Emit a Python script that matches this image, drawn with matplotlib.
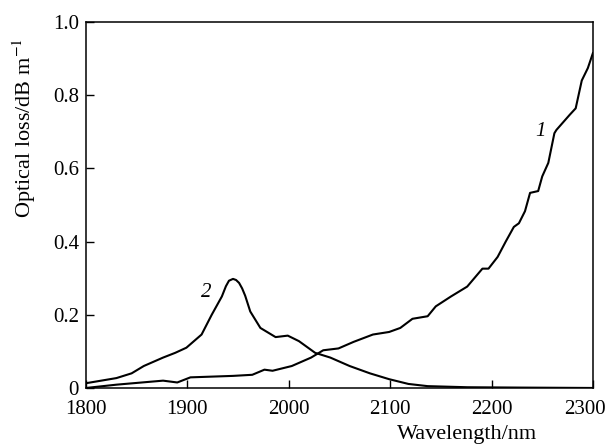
# Optical loss spectra of two fibre samples (curves 1 and 2)

import matplotlib
matplotlib.use('Agg')
import matplotlib.pyplot as plt
import matplotlib.transforms as mtransforms

# Curve 1: loss rising toward long wavelengths
wl1 = [1800, 1830, 1876, 1890, 1903, 1945, 1964, 1976, 1984, 2003, 2022, 2034,
       2049, 2064, 2083, 2099, 2110, 2122, 2137, 2145, 2160, 2176, 2191, 2197,
       2206, 2214, 2222, 2227, 2233, 2238, 2246, 2250, 2256, 2262, 2264, 2277,
       2283, 2289, 2295, 2300]
loss1 = [0.0, 0.009, 0.02, 0.015, 0.029, 0.033, 0.036, 0.05, 0.047, 0.06, 0.083, 0.103,
         0.108, 0.126, 0.146, 0.153, 0.164, 0.189, 0.196, 0.223, 0.25, 0.277, 0.326, 0.326,
         0.358, 0.40, 0.44, 0.45, 0.483, 0.533, 0.538, 0.578, 0.615, 0.696, 0.705, 0.746,
         0.764, 0.84, 0.874, 0.915]

# Curve 2: absorption band near 1945 nm
wl2 = [1800, 1830, 1845, 1857, 1876, 1888, 1899, 1914, 1924, 1934, 1938, 1941, 1945,
       1948, 1951, 1954, 1957, 1962, 1972, 1987, 1999, 2010, 2026, 2041, 2060, 2080,
       2099, 2118, 2137, 2176, 2230, 2300]
loss2 = [0.013, 0.027, 0.04, 0.06, 0.083, 0.096, 0.11, 0.146, 0.2, 0.25, 0.278, 0.293, 0.298,
         0.295, 0.287, 0.272, 0.252, 0.209, 0.164, 0.139, 0.143, 0.128, 0.096, 0.083, 0.06, 0.04,
         0.024, 0.011, 0.005, 0.002, 0.001, 0.0]

x_ticks = [1800, 1900, 2000, 2100, 2200, 2300]
y_ticks = [0, 0.2, 0.4, 0.6, 0.8, 1.0]
y_ticklabels = ['0', '0.2', '0.4', '0.6', '0.8', '1.0']

plt.rcParams['font.family'] = ['Liberation Serif', 'DejaVu Serif']
plt.rcParams['mathtext.fontset'] = 'stix'

fig = plt.figure(figsize=(6.1, 4.48), dpi=100)
ax = fig.add_axes([0.141, 0.134, 0.831, 0.817])

ax.plot(wl1, loss1, color='black', linewidth=1.5)
ax.plot(wl2, loss2, color='black', linewidth=1.5)

ax.text(2248, 0.70, '1', fontsize=15, style='italic', ha='center', va='center')
ax.text(1919, 0.262, '2', fontsize=15, style='italic', ha='center', va='center')

ax.set_xlim(1800, 2300)
ax.set_ylim(0, 1.0)
ax.set_xticks(x_ticks)
ax.set_yticks(y_ticks)
ax.set_yticklabels(y_ticklabels)
ax.tick_params(direction='in', length=6, width=1.0, labelsize=15)
ax.tick_params(axis='x', pad=9)
ax.tick_params(axis='y', pad=5)
for s in ax.spines.values():
    s.set_linewidth(1.1)

# last x tick label sits a little left of its tick in the original
last = ax.get_xticklabels()[-1]
last.set_transform(last.get_transform() + mtransforms.ScaledTranslation(-8 / 100, 0, fig.dpi_scale_trans))

ax.set_ylabel('Optical loss/dB m$^{-1}$', fontsize=16)
ax.yaxis.set_label_coords(-0.095, 0.71)
ax.set_xlabel('Wavelength/nm', fontsize=16, ha='right', va='center')
ax.xaxis.set_label_coords(0.89, -0.127)

plt.savefig('out.png', dpi=100)
